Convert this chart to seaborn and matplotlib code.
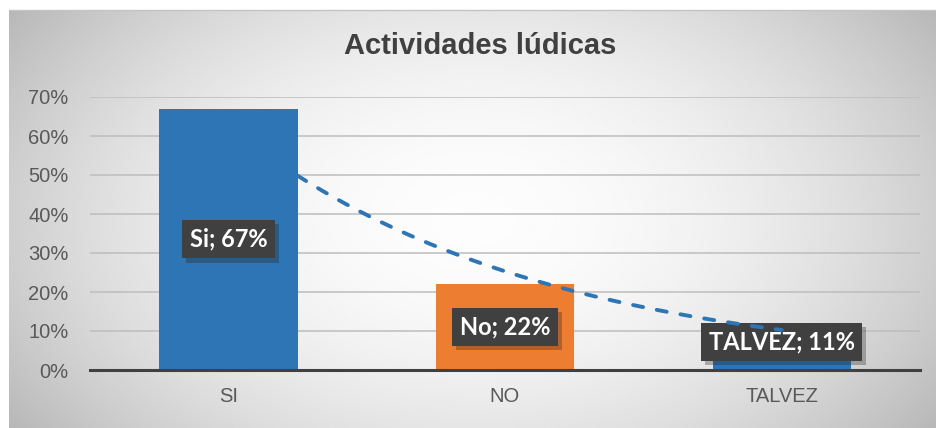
import numpy as np
import pandas as pd
import matplotlib
matplotlib.use("Agg")
import matplotlib.pyplot as plt
import matplotlib.patheffects as pe
from matplotlib.ticker import PercentFormatter, FixedLocator
import seaborn as sns

# ---- data ----
categories = ["SI", "NO", "TALVEZ"]
label_names = ["Si", "No", "TALVEZ"]
values = [0.67, 0.22, 0.11]
bar_colors = ["#2E75B6", "#ED7D31", "#2E75B6"]
title = "Actividades lúdicas"

sns.set_theme(style="white")
plt.rcParams["font.family"] = ["Liberation Sans", "DejaVu Sans"]

W, H = 937, 428
fig = plt.figure(figsize=(W / 100, H / 100), dpi=100)
fig.patch.set_facecolor("white")

# background gradient (chart area)
bg = fig.add_axes([9 / W, 0, (W - 9) / W, (H - 10) / H], zorder=-10)
nx, ny = 400, 200
X, Y = np.meshgrid(np.linspace(-1, 1, nx), np.linspace(-1, 1, ny))
r2 = (X ** 2 + 0.5 * Y ** 2) / 1.5
val = 0.99 - 0.27 * r2
bg.imshow(val, cmap="gray", vmin=0, vmax=1, aspect="auto", interpolation="bilinear")
bg.set_axis_off()
fig.add_artist(plt.Line2D([9 / W, 1], [1 - 10 / H, 1 - 10 / H], color="#c4c4c4", lw=1))

ax = fig.add_axes([90 / W, 1 - 370 / H, (920 - 90) / W, (370 - 97) / H])
ax.set_facecolor("none")

df = pd.DataFrame({"cat": categories, "val": values})
bar_w = 0.5
sns.barplot(data=df, x="cat", y="val", hue="cat", palette=bar_colors,
            width=bar_w, legend=False, ax=ax, saturation=1, zorder=2,
            linewidth=0, edgecolor="none")

ax.set_xlim(-0.5, len(categories) - 0.5)
ax.set_ylim(0, 0.7)
ax.yaxis.set_major_locator(FixedLocator(np.arange(0, 0.71, 0.1)))
ax.yaxis.set_major_formatter(PercentFormatter(1.0, decimals=0))
ax.grid(axis="y", color="#bdbdbd", lw=1.1, zorder=0)
ax.grid(axis="x", visible=False)
ax.set_axisbelow(True)
ax.set_xlabel("")
ax.set_ylabel("")
for s in ["left", "right", "top"]:
    ax.spines[s].set_visible(False)
ax.spines["bottom"].set_color("#404040")
ax.spines["bottom"].set_linewidth(2.2)
ax.spines["bottom"].set_zorder(6)

ax.tick_params(axis="y", length=0, pad=15.5, labelsize=14.5, labelcolor="#595959")
ax.tick_params(axis="x", which="major", length=0, pad=12, labelsize=14.5, labelcolor="#595959")
ax.set_xticks(np.arange(-0.5, len(categories), 1.0), minor=True)
ax.tick_params(axis="x", which="minor", direction="out", length=6, width=2.2, color="#404040")

# exponential trend line
xi = np.arange(len(values))
b, a = np.polyfit(xi, np.log(values), 1)
xt = np.linspace(bar_w / 2, len(values) - 1, 200)
ax.plot(xt, np.exp(a + b * xt), color="#2E75B6", lw=2.8, ls=(0, (2.6, 3.6)),
        dash_capstyle="round", zorder=7)

# data labels
for i, (nm, v) in enumerate(zip(label_names, values)):
    t = ax.text(i, max(v / 2, 0.072), f"{nm}; {v:.0%}", ha="center", va="center",
                fontsize=17, fontweight="bold", color="white", family=["Lato", "DejaVu Sans"],
                zorder=5,
                bbox=dict(boxstyle="square,pad=0.32", facecolor="#404040",
                          edgecolor="none", lw=0))
    t.get_bbox_patch().set_path_effects([
        pe.SimplePatchShadow(offset=(3, -3), alpha=0.3, shadow_rgbFace="#202020"),
        pe.Normal()])

fig.text(480 / W, 1 - 46 / H, title, ha="center", va="center", fontsize=21,
         fontweight="bold", color="#404040")

fig.savefig("out.png", dpi=100)
